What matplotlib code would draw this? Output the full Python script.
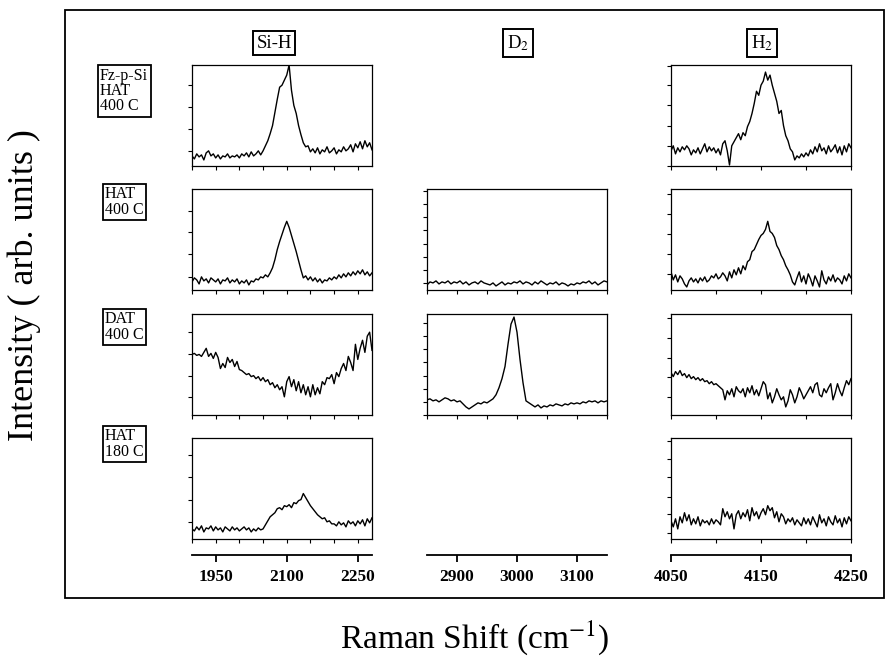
import numpy as np
import matplotlib.pyplot as plt
from matplotlib.patches import Rectangle

plt.rcParams['font.family'] = ['Liberation Serif', 'DejaVu Serif']
plt.rcParams['mathtext.fontset'] = 'stix'

W, H = 886, 658

# domaines en nombre d'onde (cm-1) de chaque colonne
SIH_LIM = (1900, 2280)
D2_LIM = (2850, 3150)
H2_LIM = (4050, 4250)

SIH_TICKS = [1900, 1950, 2000, 2050, 2100, 2150, 2200, 2250]
D2_TICKS = [2850, 2900, 2950, 3000, 3050, 3100, 3150]
H2_TICKS = [4050, 4100, 4150, 4200, 4250]

SIH_LABELS = [1950, 2100, 2250]
D2_LABELS = [2900, 3000, 3100]
H2_LABELS = [4050, 4150, 4250]

COL_TITLES = ['Si-H', 'D$_2$', 'H$_2$']
ROW_TITLES = ['Fz-p-Si\nHAT\n400 C', 'HAT\n400 C', 'DAT\n400 C', 'HAT\n180 C']

# intensites (% de la hauteur du cadre), pas regulier
sih_fz_hat400 = [10, 7, 12, 9, 11, 6, 13, 15, 10, 12,
                 8, 11, 7, 10, 9, 12, 8, 10, 9, 11,
                 8, 12, 10, 13, 9, 14, 10, 12, 15, 11,
                 15, 20, 25, 32, 40, 53, 66, 78, 80, 85,
                 90, 100, 75, 60, 52, 40, 31, 23, 19, 20,
                 14, 17, 13, 18, 12, 16, 14, 19, 13, 15,
                 18, 12, 16, 14, 19, 15, 17, 21, 14, 22,
                 18, 24, 17, 25, 19, 23, 16]
sih_hat400 = [8, 12, 10, 6, 13, 9, 11, 7, 12, 10,
              8, 11, 6, 10, 9, 12, 7, 10, 8, 11,
              6, 9, 7, 10, 5, 9, 8, 11, 10, 13,
              12, 15, 13, 17, 22, 30, 40, 48, 55, 62,
              68, 62, 54, 46, 38, 29, 20, 12, 14, 10,
              13, 9, 12, 8, 11, 7, 10, 9, 12, 10,
              13, 11, 15, 12, 16, 13, 17, 14, 18, 15,
              19, 16, 20, 15, 18, 14, 17]
sih_dat400 = [60, 61, 59, 60, 58, 62, 66, 58, 61, 56,
              62, 57, 46, 51, 47, 57, 52, 55, 48, 53,
              45, 44, 42, 40, 41, 38, 39, 36, 38, 34,
              37, 33, 35, 30, 32, 27, 30, 25, 28, 18,
              33, 38, 28, 35, 24, 33, 22, 30, 20, 28,
              18, 30, 20, 27, 21, 33, 30, 37, 36, 40,
              31, 42, 38, 46, 51, 44, 58, 52, 44, 70,
              55, 66, 74, 62, 78, 82, 64]
sih_hat180 = [10, 8, 12, 9, 13, 7, 11, 10, 13, 8,
              12, 9, 11, 7, 12, 10, 8, 12, 9, 11,
              8, 10, 12, 9, 11, 7, 10, 8, 11, 9,
              10, 14, 18, 22, 24, 26, 30, 31, 29, 33,
              32, 34, 31, 36, 35, 38, 39, 45, 41, 37,
              33, 30, 27, 24, 22, 20, 21, 17, 18, 15,
              15, 13, 17, 14, 16, 12, 18, 15, 17, 13,
              18, 15, 19, 13, 20, 16, 21]

d2_hat400 = [5, 8, 7, 9, 6, 8, 7, 9, 6, 8,
             7, 9, 6, 8, 5, 7, 8, 6, 9, 7,
             6, 5, 7, 4, 6, 8, 5, 7, 6, 8,
             7, 9, 6, 8, 7, 5, 8, 6, 9, 7,
             5, 7, 6, 8, 5, 7, 6, 4, 6, 5,
             7, 6, 8, 7, 9, 6, 8, 5, 7, 9,
             8]
d2_dat400 = [15, 16, 14, 15, 13, 15, 17, 16, 14, 15,
             13, 14, 11, 8, 6, 8, 10, 12, 11, 13,
             12, 14, 16, 20, 27, 36, 48, 70, 90, 97,
             82, 55, 32, 14, 12, 10, 8, 10, 7, 9,
             8, 10, 9, 11, 10, 9, 11, 10, 12, 11,
             12, 11, 13, 12, 14, 13, 14, 12, 14, 13,
             14]

h2_fz_hat400 = [15, 20, 12, 18, 14, 19, 16, 20, 17, 11,
                16, 13, 18, 12, 17, 22, 14, 19, 15, 18,
                13, 17, 11, 22, 25, 15, 1, 20, 24, 28,
                32, 26, 33, 30, 39, 44, 52, 62, 74, 70,
                80, 84, 93, 85, 90, 80, 72, 64, 52, 55,
                40, 30, 25, 17, 14, 6, 10, 8, 12, 9,
                13, 10, 16, 12, 19, 14, 22, 15, 18, 12,
                20, 14, 17, 21, 13, 19, 11, 20, 14, 22,
                18]
h2_hat400 = [18, 10, 15, 8, 14, 11, 6, 3, 9, 12,
             8, 11, 7, 12, 9, 13, 8, 10, 14, 12,
             16, 11, 13, 17, 14, 9, 18, 12, 20, 15,
             22, 16, 24, 20, 28, 30, 38, 40, 45, 50,
             54, 56, 60, 68, 58, 56, 52, 44, 40, 34,
             30, 24, 20, 15, 8, 5, 12, 18, 8, 14,
             6, 16, 11, 4, 14, 9, 3, 19, 10, 6,
             13, 9, 15, 8, 12, 10, 6, 14, 9, 16,
             12]
h2_dat400 = [42, 38, 43, 40, 44, 39, 41, 37, 40, 36,
             38, 35, 37, 34, 36, 33, 34, 31, 33, 30,
             31, 29, 27, 25, 15, 24, 20, 26, 18, 28,
             24, 22, 26, 18, 27, 22, 29, 20, 25, 19,
             26, 33, 30, 16, 22, 12, 18, 26, 20, 15,
             18, 8, 14, 25, 20, 12, 18, 27, 22, 16,
             20, 24, 28, 22, 30, 32, 20, 18, 26, 22,
             27, 31, 15, 22, 31, 24, 19, 27, 34, 30,
             36]
h2_hat180 = [18, 12, 20, 10, 22, 16, 26, 18, 24, 14,
             20, 15, 22, 13, 19, 16, 18, 14, 20, 15,
             19, 17, 14, 30, 22, 27, 20, 25, 10, 24,
             28, 20, 26, 22, 29, 18, 31, 23, 27, 20,
             26, 30, 24, 33, 28, 31, 21, 27, 17, 25,
             22, 15, 20, 17, 21, 14, 19, 16, 13, 21,
             15, 20, 14, 22, 17, 12, 24, 16, 20, 13,
             22, 17, 14, 23, 16, 20, 12, 21, 15, 22,
             18]


def fig_rect(left, top, width, height):
    """rectangle en pixels (origine en haut a gauche) -> fraction de figure"""
    return [left / W, 1 - (top + height) / H, width / W, height / H]


COL_LEFT = [192, 427, 671]
COL_LIM = [SIH_LIM, D2_LIM, H2_LIM]
COL_TICKS = [SIH_TICKS, D2_TICKS, H2_TICKS]
COL_LABELS = [SIH_LABELS, D2_LABELS, H2_LABELS]
ROW_TOP = [65, 189, 314, 438]
PANEL_W, PANEL_H = 180, 101

# (colonne, ligne, serie, graduations gauches en fraction de hauteur)
PANELS = [
    (0, 0, sih_fz_hat400, [0.15, 0.37, 0.58, 0.80]),
    (0, 1, sih_hat400, [0.13, 0.36, 0.57, 0.78]),
    (0, 2, sih_dat400, [0.18, 0.39, 0.60, 0.82]),
    (0, 3, sih_hat180, [0.17, 0.39, 0.61, 0.83]),
    (1, 1, d2_hat400, [0.07, 0.20, 0.33, 0.46, 0.59, 0.72, 0.85, 0.98]),
    (1, 2, d2_dat400, [0.0, 0.13, 0.26, 0.39, 0.52, 0.65, 0.78, 0.91]),
    (2, 0, h2_fz_hat400, [0.0, 0.20, 0.40, 0.60, 0.80, 0.99]),
    (2, 1, h2_hat400, [0.16, 0.36, 0.55, 0.75, 0.95]),
    (2, 2, h2_dat400, [0.18, 0.38, 0.56, 0.76, 0.96]),
    (2, 3, h2_hat180, [0.06, 0.25, 0.42, 0.61, 0.79, 0.97]),
]

fig = plt.figure(figsize=(W / 100, H / 100), dpi=100)

# cadre general
fig.patches.append(Rectangle((65 / W, 1 - 598 / H), (884 - 65) / W, (598 - 10) / H,
                             transform=fig.transFigure, fill=False, lw=1.3, ec='black'))

for col, row, serie, yticks in PANELS:
    lo, hi = COL_LIM[col]
    ax = fig.add_axes(fig_rect(COL_LEFT[col], ROW_TOP[row], PANEL_W, PANEL_H))
    x = np.linspace(lo, hi, len(serie))
    ax.plot(x, np.array(serie) / 100.0, color='black', lw=1.0)
    ax.set_xlim(lo, hi)
    ax.set_ylim(0, 1)
    ax.set_xticks(COL_TICKS[col])
    ax.set_yticks(yticks)
    ax.tick_params(direction='out', length=3, width=0.8,
                   labelbottom=False, labelleft=False)
    for sp in ax.spines.values():
        sp.set_linewidth(0.9)

# echelles du bas
for col in range(3):
    lo, hi = COL_LIM[col]
    bx = fig.add_axes(fig_rect(COL_LEFT[col], 554, PANEL_W, 1))
    bx.set_xlim(lo, hi)
    bx.set_xticks(COL_LABELS[col])
    bx.set_xticklabels([str(v) for v in COL_LABELS[col]], fontsize=12.5, fontweight='bold')
    bx.set_yticks([])
    for side in ('top', 'left', 'right'):
        bx.spines[side].set_visible(False)
    bx.spines['bottom'].set_linewidth(1.3)
    bx.tick_params(axis='x', direction='out', length=5, width=1.3, pad=5)
    bx.patch.set_visible(False)

# titres de colonnes
box = dict(boxstyle='square,pad=0.2', fc='white', ec='black', lw=1.4)
for cx, txt in zip([274, 518, 762], COL_TITLES):
    fig.text(cx / W, 1 - 43 / H, txt, ha='center', va='center', fontsize=13.5, bbox=box)

# etiquettes des lignes
box_row = dict(boxstyle='square,pad=0.15', fc='white', ec='black', lw=1.3)
for (lx, cy), txt in zip([(100, 91), (105, 202), (105, 327), (105, 444)], ROW_TITLES):
    fig.text(lx / W, 1 - cy / H, txt, ha='left', va='center', fontsize=11.5,
             linespacing=0.95, bbox=box_row)

fig.text(24 / W, 1 - 285 / H, 'Intensity ( arb. units )', rotation=90,
         ha='center', va='center', fontsize=26)
fig.text(475 / W, 1 - 638 / H, 'Raman Shift (cm$^{-1}$)', ha='center', va='center',
         fontsize=24)

fig.savefig('out.png', dpi=100)
